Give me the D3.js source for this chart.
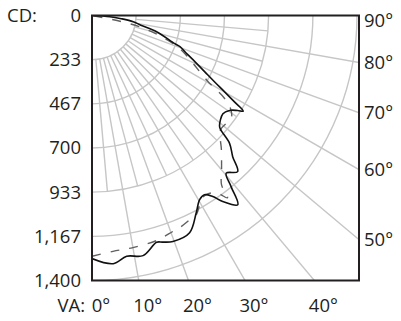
<!DOCTYPE html>
<html><head><meta charset="utf-8">
<script src="https://cdn.jsdelivr.net/npm/d3@7"></script>
<style>body{margin:0;background:#fff}</style>
</head><body>
<script>
// ---- data ----
const cdTicks = [0, 233, 467, 700, 933, 1167, 1400];
const cdLabels = ["0", "233", "467", "700", "933", "1,167", "1,400"];
const vaTicks = [0, 10, 20, 30, 40];
const vaLabels = ["0°", "10°", "20°", "30°", "40°"];
const sideTicks = [90, 80, 70, 60, 50];
const sideLabels = ["90°", "80°", "70°", "60°", "50°"];
const spokeMajor = [10, 20, 30, 40, 50, 60, 70, 80];
const spokeMinor = [5, 15, 25, 35, 45, 55, 65, 75, 85];

const solidAngle = [0, 4.9, 8.2, 12, 15.9, 17.3, 19.7, 24.2, 27.8, 30.3, 32.1, 33.7, 35.1, 37.6, 39.1, 40.4, 43, 44.9, 47.1, 48.5, 49.2, 53.1, 55.4, 56.9, 57.7, 58.7, 60, 61.5, 63.4, 65.8, 68, 70.5, 71.2, 75.9, 78.8, 81.5, 83.8, 86.2, 90];
const solidCd    = [1284, 1316, 1285, 1297, 1246, 1254, 1268, 1258, 1180, 1127, 1118, 1150, 1201, 1262, 1165, 1094, 1128, 1053, 992, 905, 890, 865, 883, 919, 945, 884, 812, 739, 668, 597, 541, 493, 462, 352, 263, 220, 155, 95, 0];

const dashAngle = [0, 5.1, 10, 16, 20.6, 22.4, 25.6, 27.6, 30.7, 32.5, 35.1, 36.6, 37.4, 40, 43.9, 48.3, 51.8, 53.9, 56.2, 58, 60.4, 64.8, 69.4, 72.8, 76.2, 78.3, 79];
const dashCd    = [1272, 1251, 1245, 1237, 1218, 1213, 1196, 1188, 1132, 1122, 1145, 1200, 1127, 1065, 986, 909, 911, 912, 880, 825, 703, 587, 494, 390, 276, 156, 0];

// ---- layout ----
const W = 401, H = 321;
const ox = 92, oy = 15.5, bw = 267, bh = 265;
const r = d3.scaleLinear().domain([0, 1400]).range([0, 265]);
const yCd = d3.scaleLinear().domain([0, 1400]).range([oy, oy + 265]);
const rad = d => d * Math.PI / 180;
const px = (a, c) => ox + r(c) * Math.sin(rad(a));
const py = (a, c) => oy + r(c) * Math.cos(rad(a));

const svg = d3.select("body").append("svg").attr("width", W).attr("height", H);
svg.append("defs").append("clipPath").attr("id", "box")
  .append("rect").attr("x", ox).attr("y", oy).attr("width", bw).attr("height", bh);

const grid = svg.append("g").attr("clip-path", "url(#box)")
  .attr("fill", "none").attr("stroke", "#c6c6c6").attr("stroke-width", 1.4);

// arcs
cdTicks.slice(1).forEach(v => {
  const p = d3.path();
  p.moveTo(ox + r(v), oy);
  p.arc(ox, oy, r(v), 0, Math.PI / 2);
  grid.append("path").attr("d", p.toString());
});
// spokes
spokeMajor.forEach(a => {
  grid.append("line").attr("x1", px(a, 233)).attr("y1", py(a, 233))
    .attr("x2", px(a, 3000)).attr("y2", py(a, 3000));
});
spokeMinor.forEach(a => {
  grid.append("line").attr("x1", px(a, 233)).attr("y1", py(a, 233))
    .attr("x2", px(a, 933)).attr("y2", py(a, 933));
});

// curves
const curve = (angles, cds) => d3.line()
  .x(i => px(angles[i], cds[i])).y(i => py(angles[i], cds[i]))
  .curve(d3.curveCatmullRom.alpha(0.5))(d3.range(angles.length));
const plot = svg.append("g").attr("clip-path", "url(#box)").attr("fill", "none");
plot.append("path").attr("d", curve(dashAngle, dashCd))
  .attr("stroke", "#606060").attr("stroke-width", 1.4).attr("stroke-dasharray", "9,10");
plot.append("path").attr("d", curve(solidAngle, solidCd))
  .attr("stroke", "#111").attr("stroke-width", 1.6).attr("stroke-linejoin", "round");

// frame
svg.append("rect").attr("x", ox).attr("y", oy).attr("width", bw).attr("height", bh)
  .attr("fill", "none").attr("stroke", "#231f20").attr("stroke-width", 2);

// labels
const font = "'Open Sans', 'Liberation Sans', sans-serif";
const txt = svg.append("g").attr("font-family", font).attr("font-size", 18.5).attr("fill", "#231f20");
txt.append("text").attr("x", 7).attr("y", oy).attr("dy", "0.35em").text("CD:");
cdTicks.forEach((v, i) => {
  txt.append("text").attr("x", 81).attr("y", yCd(v)).attr("dy", "0.35em")
    .attr("text-anchor", "end").text(cdLabels[i]);
});
sideTicks.forEach((a, i) => {
  const yy = Math.max(oy + bw / Math.tan(rad(a)), 20.5);
  txt.append("text").attr("x", 364).attr("y", yy).attr("dy", "0.35em").text(sideLabels[i]);
});
txt.append("text").attr("x", 85).attr("y", 306).attr("dy", "0.35em").attr("text-anchor", "end").text("VA:");
vaTicks.forEach((a, i) => {
  txt.append("text").attr("x", ox + bh * Math.tan(rad(a)) + 9).attr("y", 306).attr("dy", "0.35em")
    .attr("text-anchor", "middle").text(vaLabels[i]);
});
</script>
</body></html>
